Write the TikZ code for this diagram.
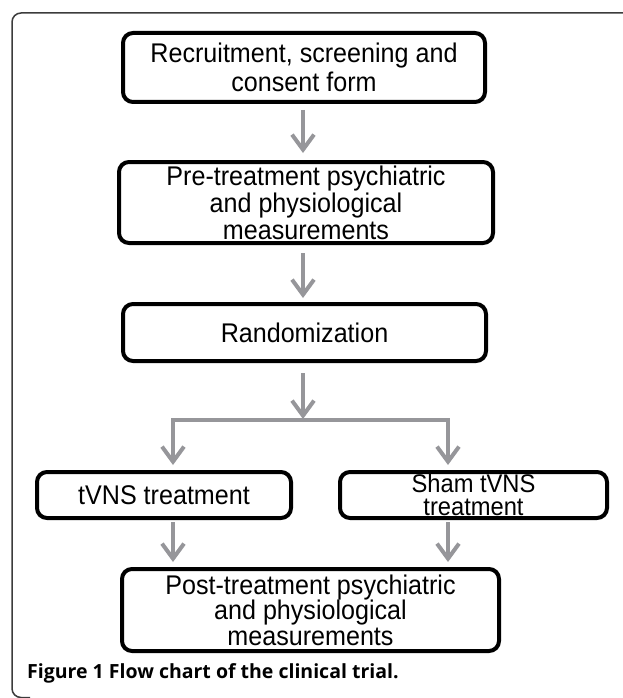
\documentclass[tikz,border=0pt]{standalone}
\usepackage{fontspec}
\setmainfont[FakeStretch=0.93]{Liberation Sans}
\newfontfamily\capfont{Open Sans}
\usetikzlibrary{arrows.meta,calc}
\definecolor{arrgray}{RGB}{150,150,154}
\definecolor{framegray}{RGB}{60,60,60}
\tikzset{
  box/.style={draw=black, line width=4pt, rounded corners=10pt, align=center, inner sep=0pt,
    font=\fontsize{27}{27}\selectfont},
  arr/.style={draw=arrgray, line width=4pt, -{Straight Barb[length=15pt,width=22pt]}},
  darr/.style={draw=arrgray, line width=4pt, {Straight Barb[length=15pt,width=22pt]}-{Straight Barb[length=15pt,width=22pt]}},
}
\begin{document}
\begin{tikzpicture}[x=1pt,y=-1pt]
\useasboundingbox (0,0) rectangle (622,698);
% outer frame
\draw[framegray, line width=1.5pt, rounded corners=9pt] (650,13) -- (12,13) -- (12,697.5) -- (30,697.5);
% boxes
\node[box, minimum width=362, minimum height=69, font=\fontsize{27}{29}\selectfont] (b1) at (304,67.5) {Recruitment, screening and\\consent form};
\node[box, minimum width=374, minimum height=81] (b2) at (306,202.5) {Pre-treatment psychiatric\\and physiological\\measurements};
\node[box, minimum width=363, minimum height=57] (b3) at (304.5,332.5) {Randomization};
\node[box, minimum width=254, minimum height=46] (b4) at (164,495) {tVNS treatment};
\node[box, minimum width=267, minimum height=46, font=\fontsize{25.5}{23.5}\selectfont] (b5) at (473.5,495) {Sham tVNS\\treatment};
\node[box, minimum width=377, minimum height=82, font=\fontsize{27}{25.5}\selectfont] (b6) at (310.5,610) {Post-treatment psychiatric\\and physiological\\measurements};
% junction coordinates
\coordinate (J) at (303,420);
\coordinate (L) at (173,420);
\coordinate (R) at (448,420);
% arrows
\draw[arr, shorten <=6pt, shorten >=7pt] (b1.south -| J) -- (b2.north -| J);
\draw[arr, shorten <=8pt, shorten >=4pt] (b2.south -| J) -- (b3.north -| J);
\draw[arr, shorten <=10pt, shorten >=1pt] (b3.south -| J) -- (J);
\draw[darr, shorten <=5pt, shorten >=5pt] (b4.north -| L) -- (L) -- (R) -- (b5.north -| R);
\draw[arr, shorten <=2pt, shorten >=5pt] (b4.south -| L) -- (b6.north -| L);
\draw[arr, shorten <=2pt, shorten >=5pt] (b5.south -| R) -- (b6.north -| R);
% caption
\node[anchor=base west, inner sep=0pt, font=\capfont\bfseries\fontsize{19.5}{21}\selectfont] (cap) at (27,678) {Figure 1 Flow chart of the clinical trial.};
\end{tikzpicture}
\end{document}
